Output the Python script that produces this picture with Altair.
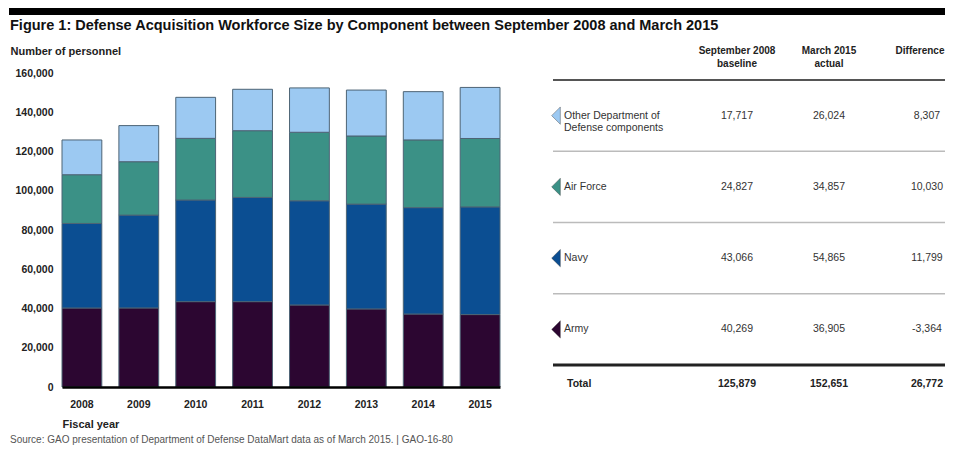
import altair as alt
import pandas as pd

FONT = "Liberation Sans"

# ---- data ----
years = ["2008", "2009", "2010", "2011", "2012", "2013", "2014", "2015"]
army = [40269, 40300, 43500, 43500, 41800, 39800, 37200, 36905]
navy = [43066, 47300, 51800, 53100, 53100, 53400, 54200, 54865]
air_force = [24827, 27200, 31400, 34000, 34900, 34700, 34500, 34857]
other_dod = [17717, 18400, 20900, 21100, 22600, 23400, 24600, 26024]

components = ["Army", "Navy", "Air Force", "Other Department of Defense components"]
component_labels = ["Army", "Navy", "Air Force", "Other Department of\nDefense components"]
colors = ["#2c0631", "#0b4e92", "#3b9186", "#9cc9f2"]

baseline_2008 = [40269, 43066, 24827, 17717]
actual_2015 = [36905, 54865, 34857, 26024]
difference = [-3364, 11799, 10030, 8307]
totals = ["Total", "125,879", "152,651", "26,772"]
headers = ["September 2008\nbaseline", "March 2015\nactual", "Difference"]

title = "Figure 1: Defense Acquisition Workforce Size by Component between September 2008 and March 2015"
source = "Source: GAO presentation of Department of Defense DataMart data as of March 2015.  |  GAO-16-80"

# ---- tables ----
series = [army, navy, air_force, other_dod]
rows = []
for ci, (comp, vals) in enumerate(zip(components, series)):
    for y, v in zip(years, vals):
        rows.append({"year": y, "component": comp, "value": v, "stack": ci})
bars_df = pd.DataFrame(rows)

def fmt(v):
    return f"{v:,}"

table_df = pd.DataFrame({
    "component": components,
    "label": component_labels,
    "baseline": [fmt(v) for v in baseline_2008],
    "actual": [fmt(v) for v in actual_2015],
    "diff": [fmt(v) for v in difference],
})

color_enc = alt.Color("component:N", scale=alt.Scale(domain=components, range=colors), legend=None)

# ---- bar chart ----
bars = alt.Chart(bars_df).mark_bar(stroke="#4d6475", strokeWidth=1).encode(
    x=alt.X("year:N", sort=years,
            scale=alt.Scale(range=[0, 438], paddingInner=0.3, paddingOuter=0),
            axis=alt.Axis(title="Fiscal year", labelAngle=0, ticks=False, domain=True,
                          domainColor="#000000", domainWidth=2.5, zindex=1,
                          labelFont=FONT, labelFontWeight="bold", labelFontSize=10.5,
                          labelColor="#222222", labelPadding=12,
                          titleFont=FONT, titleFontWeight="bold", titleFontSize=11,
                          titleColor="#222222", titleX=0, titleY=40, titleAlign="left",
                          titleAnchor="start", titleBaseline="alphabetic")),
    y=alt.Y("value:Q", stack="zero",
            scale=alt.Scale(domain=[0, 160000], nice=False),
            axis=alt.Axis(values=list(range(0, 160001, 20000)), format=",.0f", grid=False,
                          domain=False, ticks=False, labelPadding=9,
                          labelFont=FONT, labelFontWeight="bold", labelFontSize=10.5,
                          labelColor="#222222",
                          title="Number of personnel", titleAngle=0, titleX=-52, titleY=-19,
                          titleAlign="left", titleBaseline="alphabetic", titleFont=FONT,
                          titleFontWeight="bold", titleFontSize=11, titleColor="#222222")),
    color=color_enc,
    order=alt.Order("stack:Q", sort="ascending"),
)

# ---- table ----
rows_top_down = components[::-1]
row_scale = alt.Scale(type="band", domain=rows_top_down, range=[7, 292], paddingInner=0, paddingOuter=0)

def row_y(pos):
    return alt.Y("component:N", scale=row_scale, axis=None, bandPosition=pos)

tbl = alt.Chart(table_df)

header_line = tbl.transform_filter(alt.datum.component == components[3]).mark_rule(
    color="#555555", strokeWidth=2).encode(x=alt.value(491), x2=alt.value(883), y=row_y(0))
row_lines = tbl.transform_filter(alt.datum.component != components[3]).mark_rule(
    color="#bbbbbb", strokeWidth=1.5).encode(x=alt.value(491), x2=alt.value(883), y=row_y(0))
total_line = tbl.transform_filter(alt.datum.component == components[0]).mark_rule(
    color="#222222", strokeWidth=3).encode(x=alt.value(491), x2=alt.value(883), y=row_y(1))

markers = tbl.mark_point(shape="M0.5,-1L-0.5,0L0.5,1Z", filled=True, size=300, opacity=1,
                         stroke="#333333", strokeWidth=0.4).encode(
    x=alt.value(494), y=row_y(0.5), color=color_enc)

labels = tbl.mark_text(align="left", baseline="middle", font=FONT, fontSize=10.5,
                       color="#333333", lineBreak="\n", lineHeight=12).encode(
    x=alt.value(502), y=row_y(0.5), text="label:N")

def col_text(field, xpos):
    return tbl.mark_text(align="center", baseline="middle", font=FONT, fontSize=10.5,
                         color="#333333").encode(x=alt.value(xpos), y=row_y(0.5), text=f"{field}:N")

vals_b = col_text("baseline", 675)
vals_a = col_text("actual", 767)
vals_d = col_text("diff", 865)

def single_text(txt, xpos, ypos, align="center", baseline="top", size=10, weight="bold",
                color="#222222", line_height=13):
    return alt.Chart(pd.DataFrame({"t": [txt]})).mark_text(
        align=align, baseline=baseline, font=FONT, fontSize=size, fontWeight=weight,
        color=color, lineBreak="\n", lineHeight=line_height).encode(
        x=alt.value(xpos), y=alt.value(ypos), text="t:N")

head_b = single_text(headers[0], 675, -27)
head_a = single_text(headers[1], 767, -27)
head_d = single_text(headers[2], 858, -27)

tot_x = [505, 675, 767, 865]
tot_align = ["left", "center", "center", "center"]
total_layers = [single_text(t, x, 311, align=a, baseline="middle", size=10.5)
                for t, x, a in zip(totals, tot_x, tot_align)]

# ---- decorations ----
band = alt.Chart(pd.DataFrame({"a": [0]})).mark_rule(color="#000000", strokeWidth=7).encode(
    x=alt.value(-53), x2=alt.value(883), y=alt.value(-61.5))
title_t = single_text(title, -52, -43, align="left", baseline="alphabetic", size=14.5,
                      color="#111111")
source_t = single_text(source, -52, 367, align="left", baseline="middle", size=10,
                       weight="normal", color="#555555")

chart = alt.layer(
    bars, header_line, row_lines, total_line, markers, labels, vals_b, vals_a, vals_d,
    head_b, head_a, head_d, *total_layers, band, title_t, source_t,
).resolve_scale(y="independent", x="independent").properties(
    width=875, height=314,
    padding={"left": 54, "top": 65, "right": 8, "bottom": 59},
    autosize=alt.AutoSizeParams(type="none"),
).configure_view(stroke=None)

chart.save("out.html", embed_options={"renderer": "svg", "actions": False})
